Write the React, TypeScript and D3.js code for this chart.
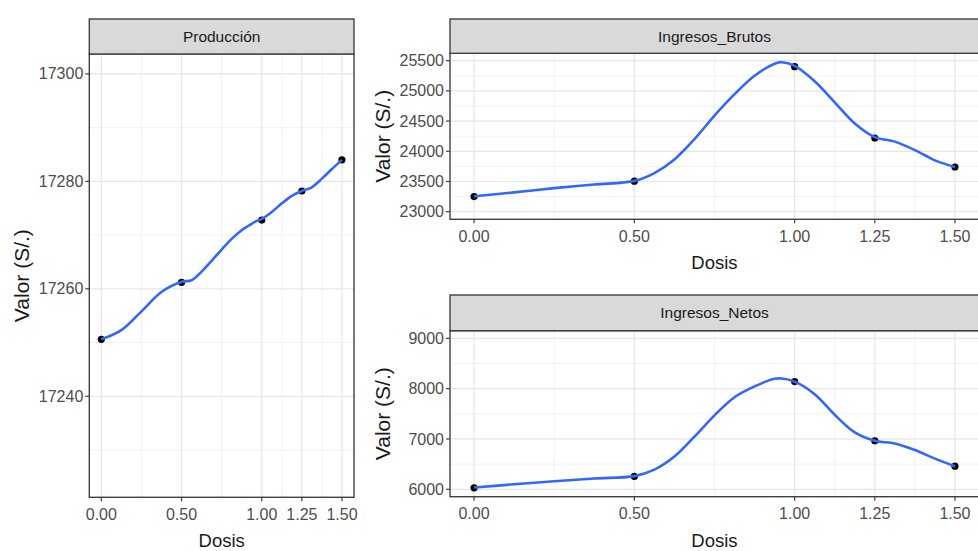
import React from "react";
import * as d3 from "d3";

// ---- data ----
const doses = [0, 0.5, 1, 1.25, 1.5];
const doseTicks = [0, 0.5, 1, 1.25, 1.5];
const doseTickLabels = ["0.00", "0.50", "1.00", "1.25", "1.50"];

const produccion = [17250.6, 17261.2, 17272.8, 17278.2, 17284.0];
const ingresosBrutos = [23250, 23505, 25400, 24220, 23740];
const ingresosNetos = [6030, 6255, 8140, 6965, 6460];

// smoothed curve as seen in the picture
const curveDoses = [0, 0.125, 0.25, 0.375, 0.5, 0.5625, 0.625, 0.6875, 0.75, 0.8125, 0.875, 0.9375, 0.96, 1, 1.0625, 1.125, 1.1875, 1.25, 1.3125, 1.375, 1.4375, 1.5];
const produccionCurve = [17250.6, 17252.3, 17255.8, 17259.4, 17261.3, 17261.6, 17263.2, 17265.2, 17267.3, 17269.3, 17270.9, 17272.1, 17272.5, 17273.0, 17274.3, 17275.9, 17277.3, 17278.2, 17278.9, 17280.5, 17282.3, 17284.0];
const brutosCurve = [23255, 23320, 23390, 23450, 23510, 23640, 23865, 24200, 24590, 24945, 25250, 25450, 25475, 25415, 25160, 24810, 24460, 24235, 24160, 24020, 23850, 23740];
const netosCurve = [6035, 6100, 6160, 6215, 6262, 6390, 6650, 7045, 7470, 7830, 8045, 8195, 8200, 8140, 7890, 7480, 7130, 6965, 6910, 6780, 6610, 6458];

const prodTicks = [17240, 17260, 17280, 17300];
const prodMinor = [17230, 17250, 17270, 17290];
const brutosTicks = [23000, 23500, 24000, 24500, 25000, 25500];
const brutosMinor = [23250, 23750, 24250, 24750, 25250];
const netosTicks = [6000, 7000, 8000, 9000];
const netosMinor = [6500, 7500, 8500];
const doseMinor = [0.25, 0.75, 1.125, 1.375];

const titles = ["Producción", "Ingresos_Brutos", "Ingresos_Netos"];
const yTitle = "Valor (S/.)";
const xTitle = "Dosis";

const FONT = "'Liberation Sans', Arial, sans-serif";

type PanelProps = {
  title: string;
  x0: number; x1: number; stripTop: number; top: number; bottom: number;
  yDomain: [number, number];
  yTicks: number[]; yMinor: number[];
  values: number[]; curve: number[];
  yTitleX: number;
};

function Panel(p: PanelProps) {
  const x = d3.scaleLinear().domain([-0.075, 1.575]).range([p.x0, p.x1]);
  const y = d3.scaleLinear().domain(p.yDomain).range([p.bottom, p.top]);
  const line = d3
    .line<number>()
    .x((_, i) => x(curveDoses[i]))
    .y((v) => y(v))
    .curve(d3.curveCatmullRom.alpha(0.5));
  const pts = curveDoses.map((_, i) => p.curve[i]);
  const cy = (p.top + p.bottom) / 2;
  const cx = (p.x0 + p.x1) / 2;
  return (
    <g>
      <rect x={p.x0} y={p.top} width={p.x1 - p.x0} height={p.bottom - p.top} fill="#fff" />
      {p.yMinor.map((t) => (
        <line key={"ym" + t} x1={p.x0} x2={p.x1} y1={y(t)} y2={y(t)} stroke="#f2f2f2" strokeWidth={1} />
      ))}
      {doseMinor.map((t) => (
        <line key={"xm" + t} x1={x(t)} x2={x(t)} y1={p.top} y2={p.bottom} stroke="#f2f2f2" strokeWidth={1} />
      ))}
      {p.yTicks.map((t) => (
        <line key={"yg" + t} x1={p.x0} x2={p.x1} y1={y(t)} y2={y(t)} stroke="#e6e6e6" strokeWidth={1.2} />
      ))}
      {doseTicks.map((t) => (
        <line key={"xg" + t} x1={x(t)} x2={x(t)} y1={p.top} y2={p.bottom} stroke="#e6e6e6" strokeWidth={1.2} />
      ))}
      {doses.map((d, i) => (
        <circle key={"p" + i} cx={x(d)} cy={y(p.values[i])} r={3.6} fill="#000" />
      ))}
      <path d={line(pts) || ""} fill="none" stroke="#3366FF" strokeWidth={2.6} strokeLinejoin="round" />
      <rect x={p.x0} y={p.top} width={p.x1 - p.x0} height={p.bottom - p.top} fill="none" stroke="#404040" strokeWidth={1.4} />
      <rect x={p.x0} y={p.stripTop} width={p.x1 - p.x0} height={p.top - p.stripTop} fill="#d9d9d9" stroke="#404040" strokeWidth={1.4} />
      <text x={cx} y={(p.stripTop + p.top) / 2 + 5.5} textAnchor="middle" fontSize={15.5} fill="#1a1a1a" fontFamily={FONT}>
        {p.title}
      </text>
      {p.yTicks.map((t) => (
        <g key={"yt" + t}>
          <line x1={p.x0 - 4} x2={p.x0} y1={y(t)} y2={y(t)} stroke="#404040" strokeWidth={1.2} />
          <text x={p.x0 - 6} y={y(t) + 5.6} textAnchor="end" fontSize={16} fill="#4d4d4d" fontFamily={FONT}>
            {d3.format("d")(t)}
          </text>
        </g>
      ))}
      {doseTicks.map((t, i) => (
        <g key={"xt" + t}>
          <line x1={x(t)} x2={x(t)} y1={p.bottom} y2={p.bottom + 4} stroke="#404040" strokeWidth={1.2} />
          <text x={x(t)} y={p.bottom + 22.5} textAnchor="middle" fontSize={16} fill="#4d4d4d" fontFamily={FONT}>
            {doseTickLabels[i]}
          </text>
        </g>
      ))}
      <text x={cx} y={p.bottom + 50} textAnchor="middle" fontSize={18.5} fill="#1a1a1a" fontFamily={FONT}>
        {xTitle}
      </text>
      <text
        transform={`translate(${p.yTitleX},${cy}) rotate(-90)`}
        textAnchor="middle"
        fontSize={21}
        fill="#1a1a1a"
        fontFamily={FONT}
      >
        {yTitle}
      </text>
    </g>
  );
}

export default function App() {
  return (
    <svg
      width={978}
      height={551}
      style={{ position: "absolute", left: 0, top: 0, background: "#fff" }}
    >
      <rect x={0} y={0} width={978} height={551} fill="#fff" />
      <Panel
        title={titles[0]}
        x0={89.3} x1={354} stripTop={19} top={54} bottom={497.3}
        yDomain={[17221.2, 17303.7]}
        yTicks={prodTicks} yMinor={prodMinor}
        values={produccion} curve={produccionCurve}
        yTitleX={29}
      />
      <Panel
        title={titles[1]}
        x0={450} x1={979} stripTop={19} top={53.3} bottom={219.3}
        yDomain={[22874, 25622]}
        yTicks={brutosTicks} yMinor={brutosMinor}
        values={ingresosBrutos} curve={brutosCurve}
        yTitleX={390}
      />
      <Panel
        title={titles[2]}
        x0={450} x1={979} stripTop={295} top={330.7} bottom={496.7}
        yDomain={[5853, 9151]}
        yTicks={netosTicks} yMinor={netosMinor}
        values={ingresosNetos} curve={netosCurve}
        yTitleX={390}
      />
    </svg>
  );
}
